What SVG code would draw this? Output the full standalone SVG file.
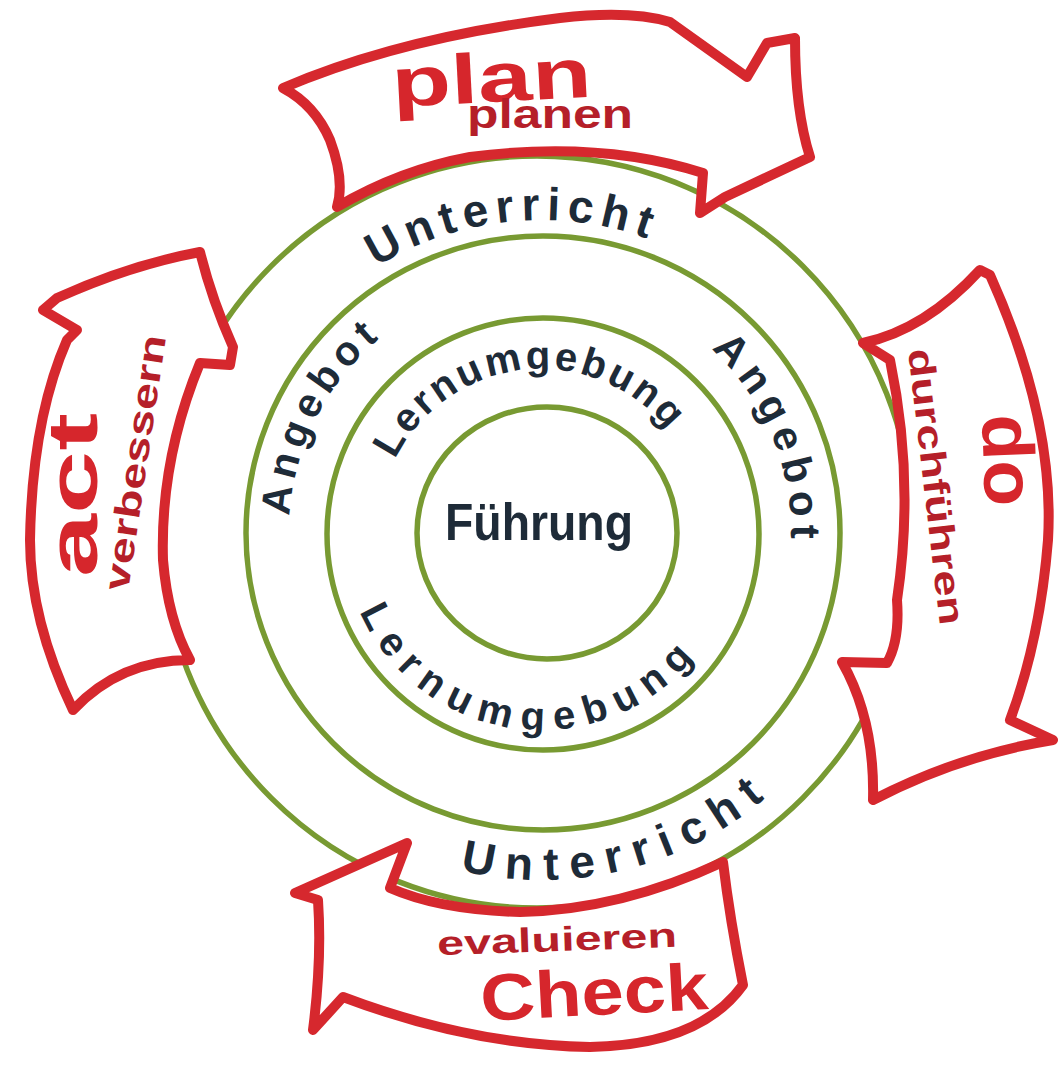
<svg xmlns="http://www.w3.org/2000/svg" width="1061" height="1069" viewBox="0 0 1061 1069">
<style>
.ring{fill:none;stroke:#789a32;stroke-width:5.5}
.banner{fill:#ffffff;stroke:#d6282e;stroke-width:10;stroke-linejoin:round;stroke-linecap:round}
.big{font-family:"Liberation Sans","Noto Sans",Arial,sans-serif;font-weight:700;fill:#d6262c}
.small{font-family:"Liberation Sans","Noto Sans",Arial,sans-serif;font-weight:700;fill:#b51f29}
.navy{font-family:"Liberation Sans","Noto Sans",Arial,sans-serif;font-weight:700;fill:#1e2b38}
</style>
<defs>
<path id="p-unt-top" d="M 270.8 376 A 312 312 0 0 1 811.2 376"/>
<path id="p-unt-bot" d="M 239.6 706 A 348 348 0 0 0 883.7 592.4"/>
<path id="p-ang-left" d="M 292.8 575.8 A 252 252 0 0 1 497.2 283.8"/>
<path id="p-ang-right" d="M 626.5 297.1 A 250 250 0 0 1 775.9 617.5"/>
<path id="p-lern-top" d="M 378.6 517.8 A 163 163 0 0 1 701.5 503.7"/>
<path id="p-lern-bot" d="M 346 566.4 A 198 198 0 0 0 736 566.4"/>
</defs>
<rect width="1061" height="1069" fill="#ffffff"/>

<g id="ring-unterricht">
<circle class="ring" cx="537" cy="532" r="376"/>
<text class="navy" font-size="46"><textPath href="#p-unt-top" startOffset="294" text-anchor="middle" textLength="282" lengthAdjust="spacing">Unterricht</textPath></text>
<text class="navy" font-size="46"><textPath href="#p-unt-bot" startOffset="445" text-anchor="middle" textLength="325" lengthAdjust="spacing">Unterricht</textPath></text>
</g>

<g id="ring-angebot">
<circle class="ring" cx="543" cy="533" r="297"/>
<text class="navy" font-size="41"><textPath href="#p-ang-left" startOffset="162" text-anchor="middle" textLength="204" lengthAdjust="spacing">Angebot</textPath></text>
<text class="navy" font-size="42"><textPath href="#p-ang-right" startOffset="206" text-anchor="middle" textLength="212" lengthAdjust="spacing">Angebot</textPath></text>
</g>

<g id="ring-lernumgebung">
<circle class="ring" cx="543" cy="534" r="216"/>
<text class="navy" font-size="40"><textPath href="#p-lern-top" startOffset="224" text-anchor="middle" textLength="326" lengthAdjust="spacing">Lernumgebung</textPath></text>
<text class="navy" font-size="40"><textPath href="#p-lern-bot" startOffset="249" text-anchor="middle" textLength="404" lengthAdjust="spacing">Lernumgebung</textPath></text>
</g>

<g id="ring-fuehrung">
<ellipse class="ring" cx="547" cy="533" rx="130" ry="126"/>
<text class="navy" x="445" y="540" font-size="52" textLength="188" lengthAdjust="spacingAndGlyphs">Führung</text>
</g>

<g id="connectors"></g>

<g id="banner-plan">
<path class="banner" d="M 283 88 Q 400 38 560 18 Q 630 10 670 22 L 747 77 L 767 43 L 795 38 Q 795 110 810 157 L 725 197 L 700 213 L 703 173 Q 600 140 470 157 Q 400 170 337 207 Q 345 180 330 140 Q 315 105 283 88 Z"/>
<text class="big" x="392" y="102" font-size="70" textLength="200" lengthAdjust="spacingAndGlyphs" transform="rotate(-3 490 90)">plan</text>
<text class="small" x="467" y="128" font-size="40" textLength="166" lengthAdjust="spacingAndGlyphs">planen</text>
</g>

<g id="banner-do">
<path class="banner" d="M 863 343 Q 925 330 980 270 L 990 275 Q 1055 420 1048 540 Q 1040 640 1010 720 L 1053 740 Q 960 755 873 800 Q 875 720 842 662 L 887 663 Q 900 640 897 600 Q 915 480 890 360 Z"/>
<text class="big" font-size="72" textLength="92" lengthAdjust="spacingAndGlyphs" transform="translate(982 415) rotate(88)">do</text>
<text class="small" font-size="36" textLength="278" lengthAdjust="spacingAndGlyphs" transform="translate(908 350) rotate(83.4)">durchführen</text>
</g>

<g id="banner-check">
<path class="banner" d="M 390 888 L 407 843 L 295 893 L 318 900 Q 322 960 313 1030 L 343 997 Q 470 1045 590 1047 Q 700 1045 743 985 Q 730 920 723 862 Q 620 910 520 912 Q 440 910 390 888 Z"/>
<text class="small" x="437" y="951" font-size="34" textLength="240" lengthAdjust="spacingAndGlyphs" transform="rotate(-2 557 940)">evaluieren</text>
<text class="big" x="480" y="1015" font-size="66" textLength="228" lengthAdjust="spacingAndGlyphs" transform="rotate(-3 594 990)">Check</text>
</g>

<g id="banner-act">
<path class="banner" d="M 43 310 L 57 298 Q 130 265 200 252 Q 212 300 233 347 L 230 365 L 200 363 Q 160 460 163 560 Q 168 620 190 660 Q 120 660 73 710 Q 30 620 30 540 Q 32 420 67 340 L 77 330 Z"/>
<text class="big" font-size="70" textLength="164" lengthAdjust="spacingAndGlyphs" transform="translate(97 577) rotate(-90)">act</text>
<text class="small" font-size="36" textLength="258" lengthAdjust="spacingAndGlyphs" transform="translate(128 592) rotate(-81.5)">verbessern</text>
</g>
</svg>
